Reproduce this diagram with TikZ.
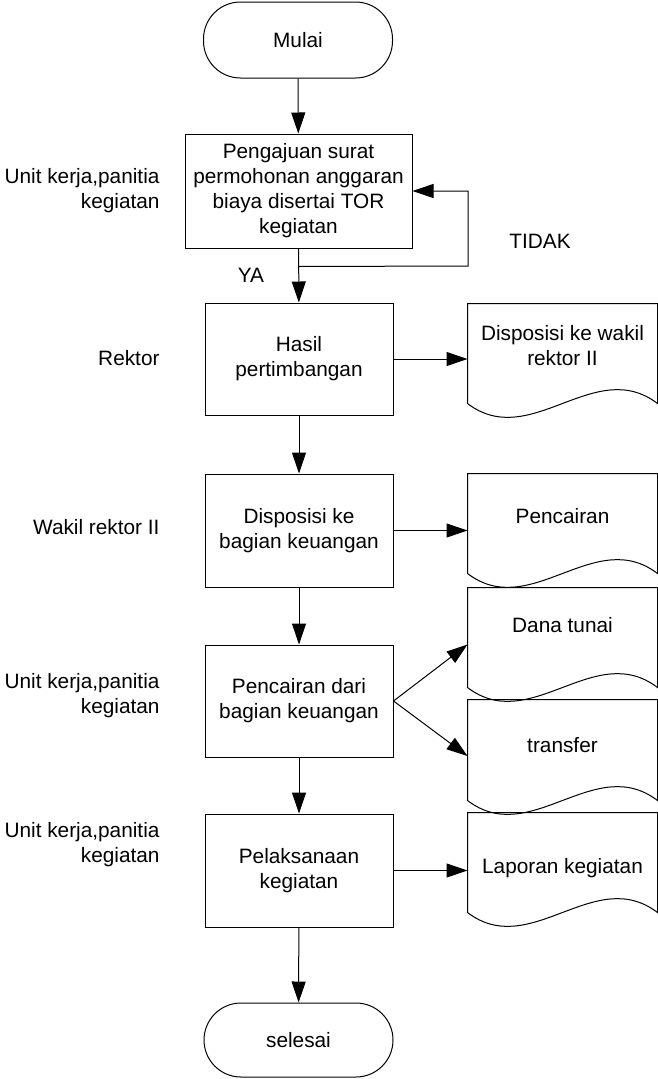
\documentclass[tikz,border=0pt]{standalone}
\usepackage{fontspec}
\setmainfont{Liberation Sans}
\usetikzlibrary{arrows.meta,calc}

% Outline of a document symbol around an (empty) frame node
\newcommand{\drawdocshape}[1]{%
  \draw (#1.south west) -- (#1.north west) -- (#1.north east) -- (#1.south east)
    .. controls ($(#1.south east)+(-63,-48)$) and ($(#1.south west)+(63,48)$) .. (#1.south west) -- cycle;}

\begin{document}
\begin{tikzpicture}[x=1pt,y=-1pt,
  every node/.style={font=\fontsize{20.8}{25}\selectfont, inner sep=0pt},
  line width=1pt,
  flow/.style={-{Triangle[length=21pt,width=14pt]}},
  terminal/.style={draw, rounded corners=37pt, minimum width=189pt},
  process/.style={draw, minimum width=188pt, align=center},
  docframe/.style={minimum width=189pt},
  doctext/.style={align=center},
  role/.style={anchor=east, align=right}]

\useasboundingbox (0,0) rectangle (658,1079);

% main column
\node[terminal, minimum height=76pt] (start) at (298,40) {Mulai};
\node[process, minimum width=227pt, minimum height=114pt] (b1) at (298.5,191)
  {Pengajuan surat\\permohonan anggaran\\biaya disertai TOR\\kegiatan};
\node[process, minimum height=112pt] (b2) at (299,359) {Hasil\\pertimbangan};
\node[process, minimum height=113pt] (b3) at (299,530.5) {Disposisi ke\\bagian keuangan};
\node[process, minimum height=112pt] (b4) at (299,701) {Pencairan dari\\bagian keuangan};
\node[process, minimum height=113pt] (b5) at (299,870.5) {Pelaksanaan\\kegiatan};
\node[terminal, minimum height=74pt] (stop) at (298.5,1040) {selesai};

% documents on the right
\node[docframe, minimum height=99pt]  (d1) at (562.5,353.5) {};
\node[docframe, minimum height=99pt]  (d2) at (562.5,523.5) {};
\node[docframe, minimum height=99pt]  (d3) at (562.5,637.5) {};
\node[docframe, minimum height=100pt] (d4) at (562.5,750) {};
\node[docframe, minimum height=99pt]  (d5) at (562.5,862.5) {};
\drawdocshape{d1}
\drawdocshape{d2}
\drawdocshape{d3}
\drawdocshape{d4}
\drawdocshape{d5}
\node[doctext] (t1) at (562.5,346) {Disposisi ke wakil\\rektor II};
\node[doctext] (t2) at (562.5,516) {Pencairan};
\node[doctext] (t3) at (562.5,625) {Dana tunai};
\node[doctext] (t4) at (562.5,745) {transfer};
\node[doctext] (t5) at (562.5,868) {Laporan kegiatan};

% roles on the left
\node[role] (r1) at (160,190.5) {Unit kerja,panitia\\kegiatan};
\node[role] (r2) at (160,358) {Rektor};
\node[role] (r3) at (160,527) {Wakil rektor II};
\node[role] (r4) at (160,695.5) {Unit kerja,panitia\\kegiatan};
\node[role] (r5) at (160,844.5) {Unit kerja,panitia\\kegiatan};

% labels of the decision
\node (ya) at (251,275) {YA};
\node (tidak) at (540,241) {TIDAK};

% connectors
\draw[flow] (start) -- (b1);
\draw[flow] (b1) -- (b2);
\coordinate (j) at ($(b1.south)+(0,18)$);
\coordinate (lc) at (468,266);
\draw[flow] (j) -- (lc) |- (b1.east);
\draw[flow] (b2) -- (b3);
\draw[flow] (b3) -- (b4);
\draw[flow] (b4) -- (b5);
\draw[flow] (b5) -- (stop);

\draw[flow] (b2.east) -- (b2.east -| d1.west);
\draw[flow] (b3.east) -- (b3.east -| d2.west);
\draw[flow] (b4.east) -- ([yshift=-7pt]d3.west);
\draw[flow] (b4.east) -- ([yshift=-6pt]d4.west);
\draw[flow] (b5.east) -- (b5.east -| d5.west);
\end{tikzpicture}
\end{document}
